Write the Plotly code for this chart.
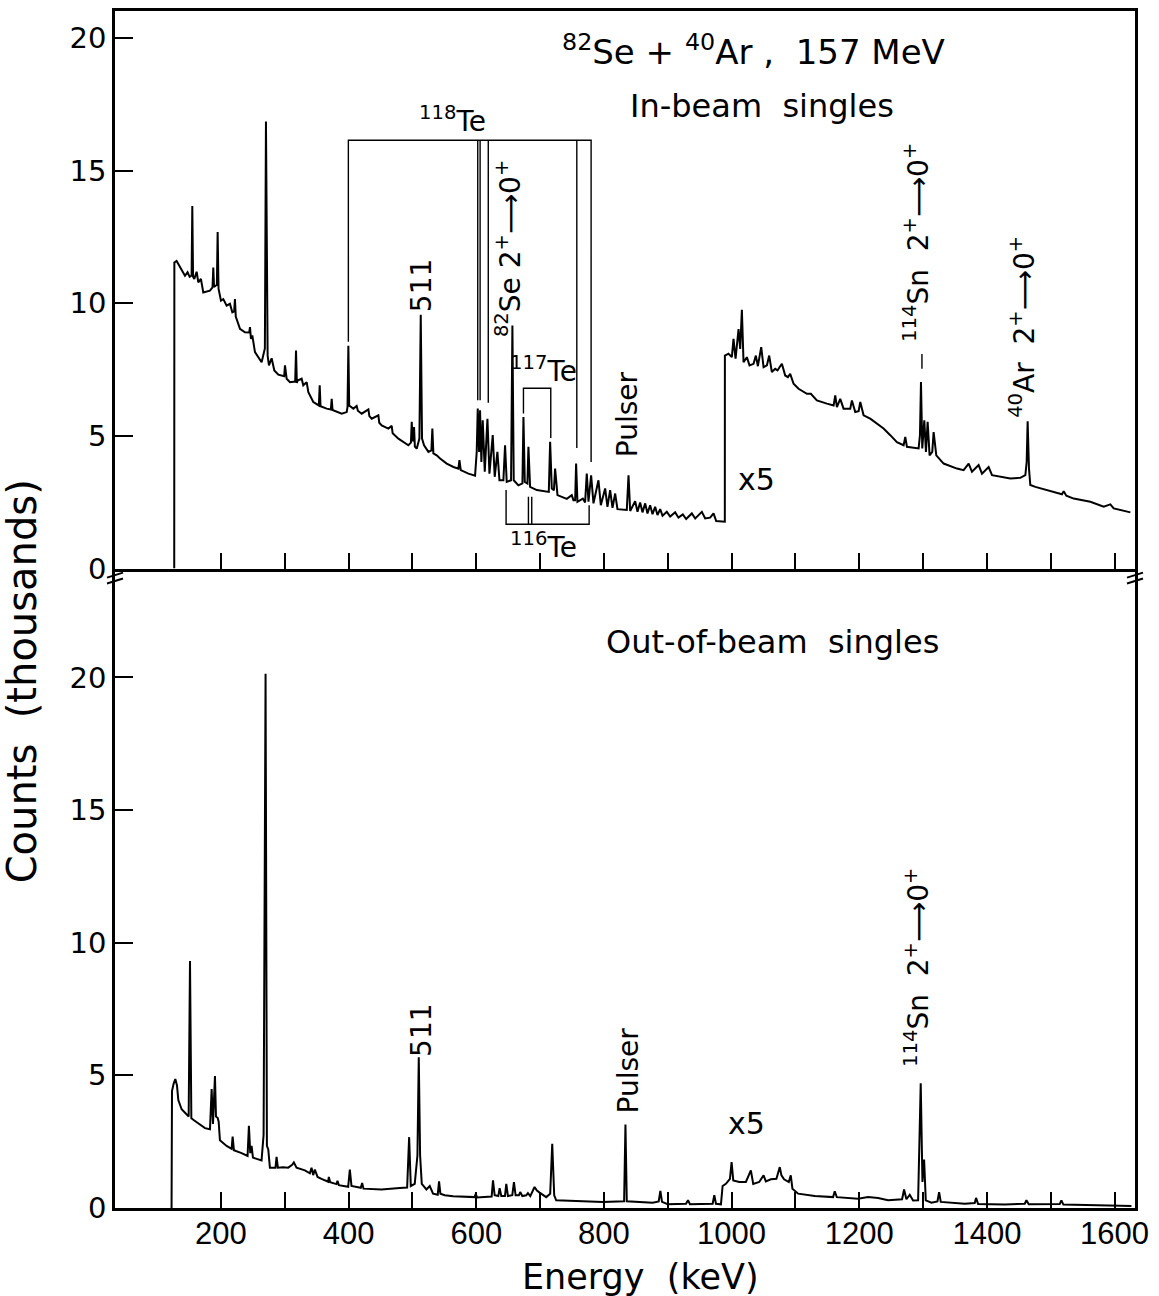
import plotly.graph_objects as go

# ---------------- data ----------------
# In-beam singles, energies (keV) and counts (thousands), part below the gain switch
inbeam_low = [
    (126.8, 0.00), (127.0, 11.54), (130.5, 11.60), (137.0, 11.30), (143.6, 11.04), (147.7, 11.17),
    (151.0, 11.00), (154.0, 11.05), (155.1, 13.67), (156.3, 11.00), (158.2, 10.92), (161.9, 11.19),
    (164.5, 10.79), (168.6, 10.92), (172.3, 10.41), (182.7, 10.48), (186.8, 10.60), (188.0, 11.35),
    (189.2, 10.62), (193.6, 10.70), (194.8, 12.69), (196.2, 10.55), (200.0, 10.10), (203.7, 10.16),
    (208.9, 9.91), (214.1, 9.98), (217.8, 9.66), (220.7, 9.70), (221.9, 10.16), (223.2, 9.50),
    (229.8, 9.04), (237.6, 8.91), (244.3, 8.90), (245.5, 9.10), (247.0, 8.66), (249.1, 8.79),
    (253.3, 8.16), (263.7, 7.78), (268.8, 8.30), (270.5, 16.85), (272.2, 8.60), (273.1, 8.03),
    (275.2, 7.66), (279.4, 7.93), (283.6, 7.47), (289.9, 7.31), (299.0, 7.25), (300.3, 7.66),
    (302.9, 7.16), (308.2, 7.03), (316.3, 7.05), (317.6, 8.22), (318.9, 7.00), (320.2, 7.09),
    (326.4, 7.16), (329.0, 6.91), (334.3, 7.03), (336.9, 6.65), (344.7, 6.28), (350.0, 6.18),
    (353.4, 6.15), (354.7, 6.91), (356.0, 6.12), (365.6, 6.03), (372.2, 6.00), (373.5, 6.40),
    (374.8, 5.98), (389.1, 5.84), (397.0, 5.90), (398.3, 6.10), (399.6, 8.40), (400.9, 6.15),
    (407.4, 6.03), (412.6, 6.13), (414.5, 5.95), (420.5, 5.84), (431.0, 6.00), (432.5, 5.75),
    (436.2, 5.65), (446.6, 5.78), (448.0, 5.50), (451.8, 5.40), (462.3, 5.28), (467.5, 5.38),
    (469.0, 5.10), (478.0, 4.90), (493.6, 4.65), (497.6, 4.75), (498.9, 5.53), (500.3, 4.80),
    (501.3, 4.85), (502.5, 5.34), (503.8, 4.60), (506.7, 4.52), (510.9, 4.90), (513.0, 9.57),
    (515.0, 4.90), (518.2, 4.65), (525.0, 4.40), (529.7, 4.46), (531.2, 5.28), (532.8, 4.34),
    (538.0, 4.27), (543.3, 4.15), (553.7, 3.96), (564.2, 3.83), (572.0, 3.77), (573.6, 4.09),
    (575.7, 3.71), (587.7, 3.58), (598.1, 3.50), (600.7, 4.40), (602.3, 6.03), (604.4, 4.40),
    (605.9, 5.97), (608.0, 4.02), (610.1, 5.59), (613.3, 3.65), (617.5, 5.65), (620.6, 3.58),
    (625.8, 5.03), (628.9, 3.46), (633.1, 4.40), (636.3, 3.33), (642.5, 3.33), (645.1, 4.65),
    (647.7, 3.27), (654.5, 3.33), (656.6, 9.16), (658.7, 3.33), (666.0, 3.14), (672.3, 3.21),
    (673.9, 5.71), (676.0, 3.27), (680.1, 3.21), (681.7, 4.59), (684.3, 3.08), (694.8, 2.96),
    (705.2, 2.92), (713.6, 2.89), (715.7, 4.78), (718.3, 3.02), (721.6, 2.95), (723.5, 3.77),
    (727.2, 2.77), (741.8, 2.63), (749.6, 2.77), (752.2, 2.58), (754.9, 2.58), (756.4, 3.96),
    (758.5, 2.52), (766.9, 2.64), (770.5, 2.49), (773.1, 3.58), (775.8, 2.52), (779.9, 3.52),
    (783.6, 2.46), (791.4, 3.33), (795.1, 2.39), (801.9, 3.02), (805.5, 2.33), (809.7, 2.96),
    (813.4, 2.29), (817.6, 2.83), (821.2, 2.24), (835.8, 2.21), (838.5, 3.52), (841.1, 2.17),
    (848.9, 2.54), (852.6, 2.14), (856.7, 2.49), (860.4, 2.12), (864.6, 2.46), (868.2, 2.08),
    (872.4, 2.39), (876.1, 2.05), (880.2, 2.33), (883.9, 2.02), (888.1, 2.24), (891.8, 1.99),
    (898.5, 2.14), (903.8, 1.96), (911.6, 2.12), (916.8, 1.92), (923.6, 2.04), (928.8, 1.87),
    (937.7, 2.08), (943.0, 1.89), (945.5, 1.95), (953.4, 2.14), (958.6, 1.89), (966.4, 1.92),
    (971.7, 2.08), (975.9, 1.79), (989.4, 1.77),
]

# In-beam singles above the gain switch, as displayed (x5)
inbeam_x5 = [
    (989.5, 8.03), (995.2, 8.10), (1000.4, 7.97), (1003.0, 8.66), (1006.2, 7.91), (1010.9, 9.03),
    (1013.5, 8.28), (1016.1, 9.76), (1018.7, 7.78), (1023.9, 7.97), (1028.1, 7.66), (1034.4, 7.72),
    (1038.0, 8.03), (1041.2, 7.63), (1046.4, 8.35), (1050.1, 7.59), (1055.3, 7.66), (1058.9, 8.03),
    (1063.1, 7.41), (1068.3, 7.53), (1072.0, 7.47), (1075.1, 7.59), (1078.8, 7.72), (1084.0, 7.28),
    (1088.2, 7.22), (1091.8, 7.34), (1097.1, 6.97), (1104.9, 6.78), (1112.7, 6.65), (1118.0, 6.59),
    (1124.2, 6.59), (1133.6, 6.34), (1149.3, 6.22), (1159.8, 6.15), (1162.4, 6.53), (1165.0, 6.09),
    (1170.2, 6.40), (1175.4, 6.03), (1185.9, 6.03), (1188.5, 6.34), (1193.7, 5.90), (1199.0, 5.93),
    (1201.6, 6.28), (1206.8, 5.78), (1217.2, 5.65), (1227.7, 5.46), (1238.1, 5.28), (1248.6, 5.03),
    (1259.0, 4.77), (1269.5, 4.65), (1272.1, 4.96), (1274.7, 4.59), (1285.2, 4.55), (1293.0, 4.53),
    (1295.1, 5.03), (1296.7, 7.03), (1298.7, 4.53), (1301.9, 5.59), (1304.5, 4.40), (1307.1, 5.53),
    (1310.2, 4.27), (1314.4, 4.40), (1316.5, 5.15), (1320.7, 4.27), (1332.2, 3.96), (1353.1, 3.77),
    (1363.5, 3.71), (1371.4, 3.96), (1376.6, 3.65), (1387.0, 3.90), (1392.3, 3.58), (1402.7, 3.83),
    (1408.0, 3.52), (1421.0, 3.46), (1436.7, 3.40), (1452.3, 3.42), (1460.2, 3.52), (1462.3, 4.02),
    (1463.8, 5.55), (1465.9, 3.77), (1468.0, 3.15), (1475.9, 3.08), (1488.9, 3.00), (1504.6, 2.90),
    (1517.6, 2.80), (1520.3, 2.92), (1524.4, 2.75), (1535.9, 2.64), (1562.1, 2.52), (1583.0, 2.33),
    (1593.4, 2.42), (1598.6, 2.27), (1609.1, 2.21), (1624.8, 2.12),
]

# Out-of-beam singles (counts in thousands, as displayed)
outbeam = [
    (122.6, 0.00), (123.3, 4.41), (125.9, 4.69), (128.5, 4.86), (131.1, 4.62), (133.2, 4.07),
    (138.4, 3.72), (144.7, 3.56), (149.4, 3.45), (151.5, 9.31), (153.6, 3.38), (159.3, 3.28),
    (167.1, 3.14), (175.0, 3.01), (182.8, 2.97), (185.4, 4.48), (187.5, 3.17), (190.6, 4.97),
    (192.2, 3.45), (194.8, 3.40), (196.4, 3.25), (198.4, 2.55), (208.9, 2.34), (216.7, 2.23),
    (218.3, 2.69), (220.3, 2.18), (232.3, 2.07), (241.7, 1.96), (243.8, 3.10), (245.9, 2.07),
    (248.0, 2.34), (250.1, 1.90), (263.6, 1.79), (266.8, 2.76), (269.9, 20.14), (272.0, 2.34),
    (274.1, 2.21), (276.7, 1.52), (285.5, 1.52), (287.1, 1.93), (289.2, 1.52), (297.5, 1.54),
    (305.4, 1.52), (311.6, 1.63), (314.2, 1.72), (318.4, 1.52), (331.5, 1.42), (339.3, 1.31),
    (341.9, 1.52), (344.5, 1.24), (347.1, 1.45), (351.3, 1.17), (357.5, 1.10), (368.0, 0.99),
    (369.0, 1.17), (371.1, 0.97), (381.0, 0.90), (382.6, 1.03), (384.7, 0.86), (399.3, 0.80),
    (401.9, 1.45), (404.5, 0.83), (419.1, 0.76), (421.2, 0.94), (423.3, 0.73), (451.4, 0.70),
    (480.2, 0.75), (491.7, 0.77), (494.8, 2.67), (497.4, 0.83), (503.6, 0.91), (507.8, 1.98),
    (509.9, 5.68), (512.0, 1.98), (514.6, 0.91), (521.9, 0.70), (527.1, 0.83), (532.3, 0.54),
    (539.6, 0.50), (541.7, 1.00), (543.8, 0.54), (550.6, 0.48), (563.6, 0.44), (597.5, 0.41),
    (599.1, 0.54), (601.1, 0.40), (624.1, 0.43), (626.2, 1.04), (628.8, 0.48), (634.5, 0.45),
    (636.6, 0.75), (639.2, 0.45), (644.9, 0.45), (647.0, 0.91), (649.6, 0.45), (656.4, 0.48),
    (659.0, 0.98), (661.6, 0.48), (666.8, 0.48), (668.8, 0.60), (672.1, 0.45), (678.3, 0.48),
    (680.9, 0.56), (684.6, 0.45), (691.3, 0.79), (695.0, 0.66), (699.2, 0.58), (709.6, 0.41),
    (715.8, 0.54), (719.0, 2.42), (722.1, 0.48), (725.2, 0.29), (756.5, 0.26), (798.2, 0.23),
    (831.6, 0.25), (833.7, 3.15), (835.8, 0.25), (876.4, 0.20), (885.8, 0.25), (888.4, 0.64),
    (891.0, 0.23), (899.9, 0.14), (928.6, 0.16), (931.7, 0.29), (934.8, 0.14), (970.3, 0.16),
    (972.9, 0.48), (975.5, 0.16), (983.3, 0.14), (985.9, 0.83), (991.1, 0.91), (997.4, 1.10),
    (1000.0, 1.73), (1002.6, 1.04), (1012.0, 0.98), (1022.4, 0.98), (1030.2, 1.42), (1033.9, 0.91),
    (1043.3, 0.98), (1050.1, 1.23), (1053.7, 1.00), (1061.5, 1.08), (1070.2, 1.10), (1075.5, 1.54),
    (1078.1, 1.23), (1082.2, 1.08), (1089.6, 0.98), (1092.7, 1.23), (1095.3, 0.73), (1104.2, 0.54),
    (1130.3, 0.45), (1159.0, 0.41), (1161.6, 0.63), (1164.8, 0.41), (1198.2, 0.35), (1213.8, 0.41),
    (1229.5, 0.38), (1245.2, 0.29), (1267.1, 0.33), (1270.2, 0.70), (1273.9, 0.33), (1279.1, 0.50),
    (1284.3, 0.28), (1292.2, 0.29), (1296.3, 4.70), (1299.0, 0.98), (1301.6, 1.83), (1304.2, 0.29),
    (1313.1, 0.20), (1322.5, 0.25), (1325.1, 0.60), (1327.7, 0.23), (1365.3, 0.16), (1380.9, 0.19),
    (1383.0, 0.38), (1386.2, 0.15), (1427.9, 0.13), (1459.3, 0.16), (1461.9, 0.29), (1465.5, 0.14),
    (1514.1, 0.15), (1516.7, 0.29), (1519.8, 0.13), (1574.1, 0.10), (1626.4, 0.08),
]

# Level-scheme brackets drawn over the in-beam spectrum (energy keV, counts k)
te118_box_E = [399.6, 399.6, 779.9, 779.9]
te118_box_C = [8.55, 16.15, 16.15, 4.02]
te118_inner_E = [602.3, 606.0, 618.8, 757.5]
te118_inner_bottom = [6.35, 6.35, 6.25, 4.55]
te118_top = 16.15
te117_E = [673.9, 673.9, 716.7, 716.7]
te117_C = [5.85, 6.80, 6.80, 4.92]
te116_E = [646.7, 646.7, 776.8, 776.8]
te116_C = [2.96, 1.67, 1.67, 2.39]
te116_inner_E = [681.7, 686.9]
te116_inner_top = 2.71
sn114_marker_E = [1298.2, 1298.2]
sn114_marker_C = [7.53, 8.09]

x_tick_vals = list(range(200, 1601, 100))
x_tick_text = [str(v) if v % 200 == 0 else "" for v in x_tick_vals]
y_tick_vals = [0, 5, 10, 15, 20]

# ---------------- figure ----------------
FONT = "DejaVu Sans, Liberation Sans, Arial, sans-serif"
XTICK_FONT = "Liberation Sans, Arial, DejaVu Sans, sans-serif"
INK = "black"

fig = go.Figure()


def unzip(pairs):
    return [p[0] for p in pairs], [p[1] for p in pairs]


inE, inC = unzip(inbeam_low + inbeam_x5)
fig.add_trace(go.Scatter(x=inE, y=inC, xaxis="x2", yaxis="y2", mode="lines",
                         line=dict(color=INK, width=2), hoverinfo="skip"))
outE, outC = unzip(outbeam)
fig.add_trace(go.Scatter(x=outE, y=outC, xaxis="x", yaxis="y", mode="lines",
                         line=dict(color=INK, width=2), hoverinfo="skip"))

# brackets
bx, by = list(te118_box_E), list(te118_box_C)
for e, b in zip(te118_inner_E, te118_inner_bottom):
    bx += [None, e, e]
    by += [None, te118_top, b]
bx += [None] + te117_E
by += [None] + te117_C
bx += [None] + te116_E
by += [None] + te116_C
for e in te116_inner_E:
    bx += [None, e, e]
    by += [None, te116_C[1], te116_inner_top]
bx += [None] + sn114_marker_E
by += [None] + sn114_marker_C
fig.add_trace(go.Scatter(x=bx, y=by, xaxis="x2", yaxis="y2", mode="lines",
                         line=dict(color=INK, width=1.4), hoverinfo="skip", connectgaps=False))

split = 641 / 1200

axis_common = dict(showline=True, linecolor=INK, linewidth=2.5, showgrid=False, zeroline=False,
                   ticks="inside", tickcolor=INK, tickwidth=2)

fig.update_layout(
    width=1159, height=1296,
    margin=dict(l=115, r=24, t=8, b=88),
    paper_bgcolor="white", plot_bgcolor="white", showlegend=False,
    xaxis=dict(domain=[0, 1], anchor="y", range=[34, 1632], tickmode="array",
               tickvals=x_tick_vals, ticktext=x_tick_text, ticklen=16, ticklabelstandoff=-4,
               tickfont=dict(family=XTICK_FONT, size=31, color=INK), **axis_common),
    xaxis2=dict(domain=[0, 1], anchor="y2", matches="x", range=[34, 1632], tickmode="array",
                tickvals=x_tick_vals, ticklen=16, showticklabels=False, mirror=True, **axis_common),
    yaxis=dict(domain=[0, split], anchor="x", range=[0, 24.1], tickmode="array",
               tickvals=y_tick_vals, ticklen=18, mirror=True,
               tickfont=dict(family=FONT, size=29, color=INK), **axis_common),
    yaxis2=dict(domain=[split, 1], anchor="x2", range=[0, 21.02], tickmode="array",
                tickvals=y_tick_vals, ticklen=18, mirror=True,
                tickfont=dict(family=FONT, size=29, color=INK), **axis_common),
)

ARROW = "\u27f6"
annotations = []


def ann(text, x, y, panel, size=28, angle=0):
    ref = ("x2", "y2") if panel == "top" else ("x", "y")
    annotations.append(dict(text=text, x=x, y=y, xref=ref[0], yref=ref[1], showarrow=False,
                            textangle=angle, xanchor="center", yanchor="middle",
                            font=dict(family=FONT, size=size, color=INK)))


# top panel
ann("<sup>82</sup>Se + <sup>40</sup>Ar ,  157 MeV", 1034, 19.55, "top", 34)
ann("In-beam  singles", 1048, 17.44, "top", 32)
ann("<sup>118</sup>Te", 562, 16.92, "top", 28)
ann("511", 513.5, 10.65, "top", 28, -90)
ann("<sup>82</sup>Se 2<sup>+</sup>" + ARROW + "0<sup>+</sup>", 651.5, 12.05, "top", 28, -90)
ann("<sup>117</sup>Te", 706, 7.52, "top", 28)
ann("<sup>116</sup>Te", 706, 0.86, "top", 28)
ann("Pulser", 838, 5.83, "top", 28, -90)
ann("x5", 1038.6, 3.35, "top", 30)
ann("<sup>114</sup>Sn  2<sup>+</sup>" + ARROW + "0<sup>+</sup>", 1290, 12.3, "top", 28, -90)
ann("<sup>40</sup>Ar  2<sup>+</sup>" + ARROW + "0<sup>+</sup>", 1456, 9.1, "top", 28, -90)

# bottom panel
ann("Out-of-beam  singles", 1063.6, 21.35, "bottom", 32)
ann("511", 514, 6.69, "bottom", 28, -90)
ann("Pulser", 838, 5.19, "bottom", 28, -90)
ann("x5", 1023, 3.2, "bottom", 30)
ann("<sup>114</sup>Sn  2<sup>+</sup>" + ARROW + "0<sup>+</sup>", 1291, 9.06, "bottom", 28, -90)

# axis titles
annotations.append(dict(text="Counts  (thousands)", x=(22 - 115) / 1020, y=(1208 - 680) / 1200,
                        xref="paper", yref="paper", showarrow=False, textangle=-90,
                        xanchor="center", yanchor="middle",
                        font=dict(family=FONT, size=40, color=INK)))
annotations.append(dict(text="Energy  (keV)", x=(640 - 115) / 1020, y=(1208 - 1277) / 1200,
                        xref="paper", yref="paper", showarrow=False,
                        xanchor="center", yanchor="middle",
                        font=dict(family=FONT, size=35, color=INK)))
fig.update_layout(annotations=annotations)


# axis-break marks
def px2paper(px, py):
    return (px - 115) / 1020, (1208 - py) / 1200


shapes = []
for xc in (115, 1135):
    for dy in (0, 6):
        x0, y0 = px2paper(xc - 8, 576 + dy)
        x1, y1 = px2paper(xc + 8, 571 + dy)
        shapes.append(dict(type="line", xref="paper", yref="paper", x0=x0, y0=y0, x1=x1, y1=y1,
                           line=dict(color=INK, width=2)))
fig.update_layout(shapes=shapes)

fig.write_html("out.html")
